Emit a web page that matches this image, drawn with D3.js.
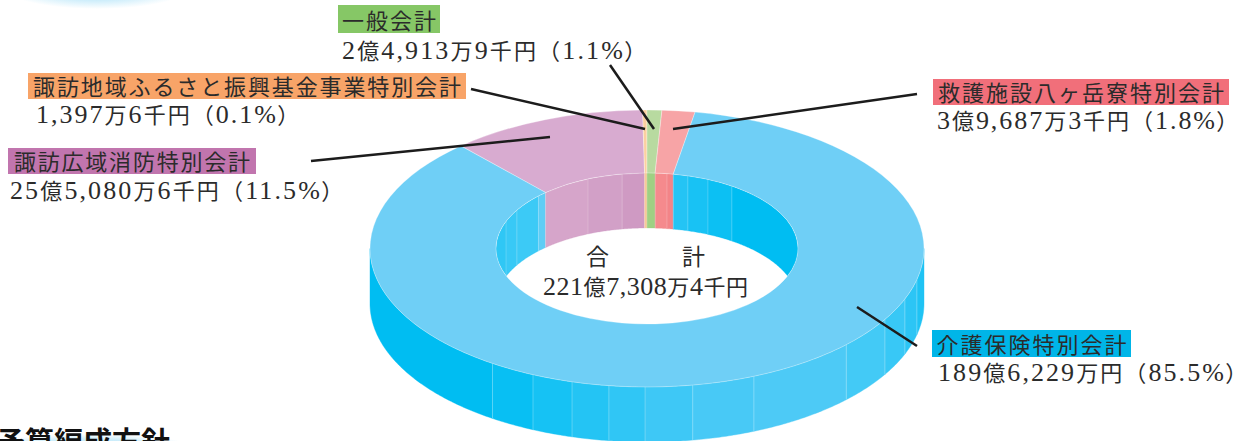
<!DOCTYPE html>
<html lang="ja">
<head>
<meta charset="utf-8">
<script src="https://cdn.jsdelivr.net/npm/d3@7"></script>
<style>
  html, body { margin: 0; background: #fff; overflow: hidden; }
  svg { display: block; }
  text { font-family: "Liberation Serif", "Noto Sans CJK JP", serif; fill: #2b2b2b; }
</style>
</head>
<body>
<div id="chart"></div>
<script>
// Data, in drawing order (clockwise from the pink slice)
const categories = ["諏訪広域消防特別会計", "諏訪地域ふるさと振興基金事業特別会計", "一般会計", "救護施設八ヶ岳寮特別会計", "介護保険特別会計"];
const amounts = ["25億5,080万6千円（11.5%）", "1,397万6千円（0.1%）", "2億4,913万9千円（1.1%）", "3億9,687万3千円（1.8%）", "189億6,229万円（85.5%）"];
// share of the ring as drawn
const drawnShares = [11.47, 0.25, 0.86, 1.92, 85.5];
const totalLabel = ["合　　　計", "221億7,308万4千円"];

const topColors = ["#d8abd0", "#fbd0a0", "#b8daa0", "#f7a4a6", "#6fcff6"];

// Shaded bands of the two walls: [from deg, to deg, colour], 0 = top of ring, clockwise
const outerBands = [
    [90, 103, "#1fc3f4"], [103, 111.4, "#2cc5f5"], [111.4, 120.8, "#38c8f6"],
    [120.8, 134, "#43caf6"], [134, 157.3, "#4dcaf6"], [157.3, 170.5, "#48c9f6"],
    [170.5, 180.4, "#3ec8f6"], [180.4, 187.9, "#30c6f5"], [187.9, 195.7, "#24c4f4"],
    [195.7, 204.3, "#16c2f4"], [204.3, 213.9, "#08bff3"], [213.9, 270, "#00bdf2"]
];
const innerBands = [
    [-90, -69, "#2fc7f5"], [-69, -59.5, "#38c9f6"], [-59.5, -46, "#3ccaf6"], [-46, -42.2, "#5fcdf5"],
    [-42.2, -23, "#d6a5ca"], [-23, -9.5, "#d2a0c7"], [-9.5, -0.9, "#cf9ac3"],
    [-0.9, 0, "#f8c998"], [0, 3.1, "#9fd083"],
    [3.1, 7.6, "#f58a8d"], [7.6, 10, "#f38488"],
    [10, 15.7, "#24c4f4"], [15.7, 23.8, "#18c2f4"], [23.8, 34.2, "#0cc0f3"], [34.2, 90, "#00bdf2"]
];

const labelBoxes = [
    { color: "#c175ae", x: 8, y: 148, w: 248, h: 26, textW: 236, valueX: 10, valueY: 199, valueW: 323 },
    { color: "#f8a468", x: 28, y: 73, w: 438, h: 26, textW: 428, valueX: 36, valueY: 123, valueW: 253 },
    { color: "#86c766", x: 338, y: 5, w: 102, h: 28, textW: 94, valueX: 342, valueY: 59, valueW: 294 },
    { color: "#f16f7a", x: 933, y: 79, w: 296, h: 26, textW: 286, valueX: 937, valueY: 129, valueW: 291 },
    { color: "#00b5e8", x: 932, y: 330, w: 199, h: 27, textW: 190, valueX: 938, valueY: 381, valueW: 299 }
];
const leaders = [
    [311, 161, 550, 137], [471, 89, 645, 129], [610, 65, 654, 129], [917, 94, 673, 129], [857, 307, 917, 346]
];

// Dimensions
const dimensions = { width: 1238, height: 441 };
const ring = { cx: 647, cy: 248.5, rx: 277, innerRx: 151, squash: 0.5, depth: 55 };

const svg = d3.select("#chart")
    .append("svg")
    .attr("width", dimensions.width)
    .attr("height", dimensions.height);

const defs = svg.append("defs");

// Soft blue blobs belonging to the page around the chart
const glow = defs.append("radialGradient").attr("id", "glow");
glow.append("stop").attr("offset", "0%").attr("stop-color", "#b5e3f8");
glow.append("stop").attr("offset", "60%").attr("stop-color", "#cfeefb");
glow.append("stop").attr("offset", "100%").attr("stop-color", "#ffffff");

svg.append("ellipse").attr("cx", 97).attr("cy", -12).attr("rx", 92).attr("ry", 21).attr("fill", "url(#glow)");
svg.append("ellipse").attr("cx", 90).attr("cy", 446).attr("rx", 100).attr("ry", 12).attr("fill", "url(#glow)");

const rad = d3.scaleLinear().domain([0, 360]).range([0, 2 * Math.PI]);

// Wall band between two angles on an ellipse of radius rx
function wallPath(from, to, rx) {
    const ry = rx * ring.squash;
    const area = d3.area()
        .x(d => ring.cx + rx * Math.sin(rad(d)))
        .y0(d => ring.cy - ry * Math.cos(rad(d)))
        .y1(d => ring.cy - ry * Math.cos(rad(d)) + ring.depth);
    return area(d3.range(from, to, 0.5).concat([to]));
}

// Digits are set larger than the kana and kanji, as in the original type.
// The closing bracket drops its blank half so the line ends on the ink.
function setMixedText(selection, digitSize) {
    selection.each(function(d) {
        const text = d3.select(this);
        d.match(/[0-9,.%]+|[^0-9,.%]+/g).forEach(run => {
            const span = text.append("tspan").text(run);
            if (/^[0-9,.%]/.test(run)) span.attr("font-size", digitSize);
            if (run === "）") span.style("font-feature-settings", '"palt"');
        });
    });
}

const chart = svg.append("g");

// Outer wall
chart.append("g")
    .selectAll("path")
    .data(outerBands)
    .join("path")
    .attr("d", d => wallPath(d[0], d[1], ring.rx))
    .attr("fill", d => d[2])
    .attr("stroke", d => d[2])
    .attr("stroke-width", 0.4);

// thin light seams between the outer bands
chart.append("g")
    .selectAll("line")
    .data(outerBands.slice(0, -1))
    .join("line")
    .attr("x1", d => ring.cx + ring.rx * Math.sin(rad(d[1])))
    .attr("x2", d => ring.cx + ring.rx * Math.sin(rad(d[1])))
    .attr("y1", d => ring.cy - ring.rx * ring.squash * Math.cos(rad(d[1])))
    .attr("y2", d => ring.cy - ring.rx * ring.squash * Math.cos(rad(d[1])) + ring.depth)
    .attr("stroke", "#fff")
    .attr("stroke-opacity", 0.35)
    .attr("stroke-width", 0.8);

// Inner wall, only seen through the hole
defs.append("clipPath").attr("id", "hole")
    .append("ellipse")
    .attr("cx", ring.cx)
    .attr("cy", ring.cy)
    .attr("rx", ring.innerRx)
    .attr("ry", ring.innerRx * ring.squash);

const inner = chart.append("g").attr("clip-path", "url(#hole)");

inner.append("ellipse")
    .attr("cx", ring.cx)
    .attr("cy", ring.cy)
    .attr("rx", ring.innerRx)
    .attr("ry", ring.innerRx * ring.squash)
    .attr("fill", "#fff");

inner.selectAll("path")
    .data(innerBands)
    .join("path")
    .attr("d", d => wallPath(d[0], d[1], ring.innerRx))
    .attr("fill", d => d[2])
    .attr("stroke", d => d[2])
    .attr("stroke-width", 0.3);

inner.selectAll("line")
    .data(innerBands.slice(0, -1))
    .join("line")
    .attr("x1", d => ring.cx + ring.innerRx * Math.sin(rad(d[1])))
    .attr("x2", d => ring.cx + ring.innerRx * Math.sin(rad(d[1])))
    .attr("y1", d => ring.cy - ring.innerRx * ring.squash * Math.cos(rad(d[1])))
    .attr("y2", d => ring.cy - ring.innerRx * ring.squash * Math.cos(rad(d[1])) + ring.depth)
    .attr("stroke", "#fff")
    .attr("stroke-opacity", 0.3)
    .attr("stroke-width", 0.7);

// Top of the ring
const startAngle = rad(-42.2);
const pie = d3.pie().sort(null).startAngle(startAngle).endAngle(startAngle + 2 * Math.PI);
const arc = d3.arc().innerRadius(ring.innerRx).outerRadius(ring.rx);

chart.append("g")
    .attr("transform", `translate(${ring.cx}, ${ring.cy}) scale(1, ${ring.squash})`)
    .selectAll("path")
    .data(pie(drawnShares))
    .join("path")
    .attr("d", arc)
    .attr("fill", (d, i) => topColors[i])
    .attr("stroke", "#fff")
    .attr("stroke-opacity", 0.45)
    .attr("stroke-width", 0.7)
    .attr("vector-effect", "non-scaling-stroke");

// Leader lines
svg.append("g")
    .selectAll("line")
    .data(leaders)
    .join("line")
    .attr("x1", d => d[0])
    .attr("y1", d => d[1])
    .attr("x2", d => d[2])
    .attr("y2", d => d[3])
    .attr("stroke", "#1c1c1c")
    .attr("stroke-width", 2.5);

// Labels
const labels = svg.append("g")
    .selectAll("g")
    .data(categories)
    .join("g");

labels.append("rect")
    .attr("x", (d, i) => labelBoxes[i].x)
    .attr("y", (d, i) => labelBoxes[i].y)
    .attr("width", (d, i) => labelBoxes[i].w)
    .attr("height", (d, i) => labelBoxes[i].h)
    .attr("fill", (d, i) => labelBoxes[i].color);

labels.append("text")
    .attr("x", (d, i) => labelBoxes[i].x + (labelBoxes[i].w - labelBoxes[i].textW) / 2)
    .attr("y", (d, i) => labelBoxes[i].y + labelBoxes[i].h - 4)
    .attr("font-size", 22)
    .attr("textLength", (d, i) => labelBoxes[i].textW)
    .attr("lengthAdjust", "spacing")
    .text(d => d);

labels.append("text")
    .datum((d, i) => amounts[i])
    .attr("x", (d, i) => labelBoxes[i].valueX)
    .attr("y", (d, i) => labelBoxes[i].valueY)
    .attr("font-size", 22)
    .attr("textLength", (d, i) => labelBoxes[i].valueW)
    .attr("lengthAdjust", "spacing")
    .call(setMixedText, 26);

// Total in the hole
svg.append("text")
    .attr("x", 586)
    .attr("y", 265)
    .attr("font-size", 23)
    .attr("textLength", 119)
    .attr("lengthAdjust", "spacing")
    .text(totalLabel[0]);

svg.append("text")
    .datum(totalLabel[1])
    .attr("x", 543)
    .attr("y", 295)
    .attr("font-size", 22)
    .attr("textLength", 205)
    .attr("lengthAdjust", "spacing")
    .call(setMixedText, 26);

// Heading of the next section, cut off by the page crop
svg.append("text")
    .attr("x", -4)
    .attr("y", 453)
    .attr("font-size", 29)
    .attr("font-weight", 700)
    .style("font-family", "'Noto Sans CJK JP', sans-serif")
    .style("fill", "#111")
    .text("予算編成方針");
</script>
</body>
</html>
